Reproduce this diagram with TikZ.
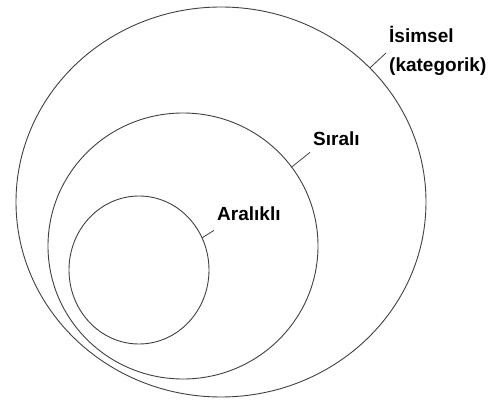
\documentclass[tikz,border=0pt]{standalone}
\usepackage{fontspec}
\setmainfont{Liberation Sans}
\usetikzlibrary{shapes.geometric}

\begin{document}
\begin{tikzpicture}[
  x=1pt, y=-1pt,
  ring/.style={ellipse, draw=black!75, line width=0.9pt, inner sep=0pt, outer sep=0pt},
  tag/.style={font=\fontsize{19}{29}\selectfont\bfseries, inner sep=3pt, align=left},
  pointer/.style={draw=black!75, line width=0.8pt}
]
  \useasboundingbox (0,0) rectangle (496,401);

  % ==========================================
  % 1. CIRCULOS (del mayor al menor)
  % ==========================================
  \node[ring, minimum width=410pt, minimum height=390pt] (isimselring) at (221,202) {};
  \node[ring, minimum width=270pt, minimum height=266pt] (siraliring) at (183,246) {};
  \node[ring, minimum width=140pt, minimum height=148pt] (aralikliring) at (139,270) {};

  % ==========================================
  % 2. ETIQUETAS
  % ==========================================
  \node[tag, anchor=west] (isimsel) at (386,51) {İsimsel\\(kategorik)};
  \node[tag, anchor=base west] (sirali) at (310,146) {Sıralı};
  \node[tag, anchor=base west] (aralikli) at (214,221) {Aralıklı};

  % lineas de las etiquetas
  \draw[pointer] (isimselring.42) -- ([yshift=-2pt]isimsel.west);
  \draw[pointer] (siraliring.36.5) -- ([yshift=-3pt]sirali.south west);
  \draw[pointer] (aralikliring.27) -- ([yshift=-6pt]aralikli.south west);

\end{tikzpicture}
\end{document}
